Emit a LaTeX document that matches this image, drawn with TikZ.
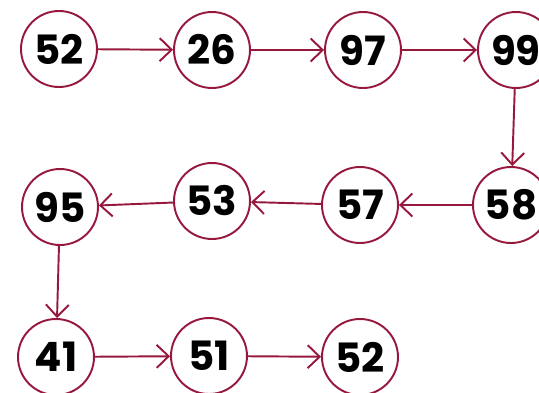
\documentclass[tikz,border=0pt]{standalone}
\usepackage{fontspec}
\setmainfont{Poppins}
\usetikzlibrary{arrows.meta}
\definecolor{listred}{RGB}{150,24,60}

\begin{document}
\begin{tikzpicture}[
        x = 0.02cm, y = -0.02cm,
        item/.style = {circle, draw=listred, line width=1.1pt, minimum size=1.52cm,
            inner sep=0pt, font=\fontsize{23}{23}\selectfont\bfseries},
        link/.style = {draw=listred, line width=1.1pt,
            -{Straight Barb[length=2.4mm,width=4.6mm]}},
        ]

        \useasboundingbox (0,0) rectangle (539,393);

        % Row 1
        \node[item] (a1) at (59,49) {52};
        \node[item] (a2) at (212,50) {26};
        \node[item] (a3) at (363,50) {97};
        \node[item] (a4) at (516,50) {99};

        % Row 2
        \node[item] (b4) at (511,205) {58};
        \node[item] (b3) at (360,205) {57};
        \node[item] (b2) at (212,201) {53};
        \node[item] (b1) at (60,207) {95};

        % Row 3
        \node[item] (c1) at (56,357) {41};
        \node[item] (c2) at (209,356) {51};
        \node[item] (c3) at (360,357) {52};

        % Links
        \draw[link] (a1) -- (a2);
        \draw[link] (a2) -- (a3);
        \draw[link] (a3) -- (a4);
        \draw[link] (a4) -- (b4);
        \draw[link] (b4) -- (b3);
        \draw[link] (b3) -- (b2);
        \draw[link] (b2) -- (b1);
        \draw[link] (b1) -- (c1);
        \draw[link] (c1) -- (c2);
        \draw[link] (c2) -- (c3);
    \end{tikzpicture}
\end{document}
